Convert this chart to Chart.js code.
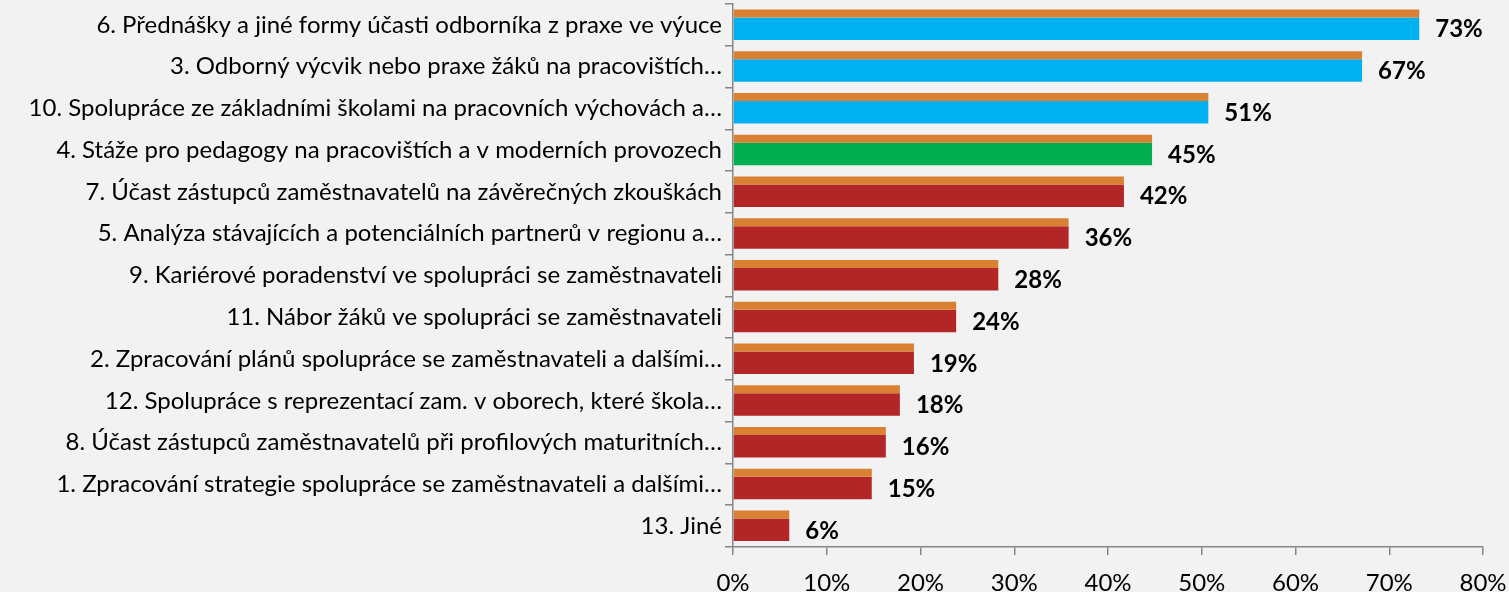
<!DOCTYPE html>
<html><head><meta charset="utf-8">
<script src="https://cdn.jsdelivr.net/npm/chart.js@4.4.0/dist/chart.umd.min.js"></script>
<style>html,body{margin:0;padding:0;background:#F2F2F2;overflow:hidden}#wrap{width:1509px;height:592px;position:relative}</style>
</head><body><div id="wrap"><canvas id="c"></canvas></div>
<script>
const categories = [
  '6. Přednášky a jiné formy účasti odborníka z praxe ve výuce',
  '3. Odborný výcvik nebo praxe žáků na pracovištích…',
  '10. Spolupráce ze základními školami na pracovních výchovách a…',
  '4. Stáže pro pedagogy na pracovištích a v moderních provozech',
  '7. Účast zástupců zaměstnavatelů na závěrečných zkouškách',
  '5. Analýza stávajících a potenciálních partnerů v regionu a…',
  '9. Kariérové poradenství ve spolupráci se zaměstnavateli',
  '11. Nábor žáků ve spolupráci se zaměstnavateli',
  '2. Zpracování plánů spolupráce se zaměstnavateli a dalšími…',
  '12. Spolupráce s reprezentací zam. v oborech, které škola…',
  '8. Účast zástupců zaměstnavatelů při profilových maturitních…',
  '1. Zpracování strategie spolupráce se zaměstnavateli a dalšími…',
  '13. Jiné'
];
const values = [73.2, 67.1, 50.7, 44.7, 41.7, 35.8, 28.3, 23.8, 19.3, 17.8, 16.3, 14.8, 6.0];
const valueLabels = ['73%','67%','51%','45%','42%','36%','28%','24%','19%','18%','16%','15%','6%'];
const colorGroups = ['blue','blue','blue','green','red','red','red','red','red','red','red','red','red'];
const xTicks = [0,10,20,30,40,50,60,70,80];

const palette = {blue:'#00B0F0', green:'#00B050', red:'#B22628', stripe:'#D98032'};
const FONT = 'Lato';

const labelPlugin = {
  id:'valueLabels',
  afterDatasetsDraw(chart){
    const ctx = chart.ctx;
    const meta = chart.getDatasetMeta(1);
    ctx.save();
    ctx.font = 'bold 24px ' + FONT;
    ctx.fillStyle = '#000';
    ctx.textAlign = 'left';
    ctx.textBaseline = 'middle';
    meta.data.forEach((bar,i)=>{
      ctx.fillText(valueLabels[i], bar.x + 16, bar.y + 1);
    });
    ctx.restore();
  }
};

new Chart(document.getElementById('c'), {
  type:'bar',
  data:{
    labels: categories,
    datasets:[
      {data: values, backgroundColor: palette.stripe, borderWidth:0,
       categoryPercentage: 1.1013, barPercentage: 0.3478},
      {data: values, backgroundColor: colorGroups.map(g=>palette[g]), borderWidth:0,
       categoryPercentage: 0.3591, barPercentage: 3.0}
    ]
  },
  options:{
    indexAxis:'y',
    responsive:true,
    maintainAspectRatio:false,
    animation:false,
    layout:{padding:{top:4,right:26,left:0,bottom:0}},
    plugins:{legend:{display:false}, tooltip:{enabled:false}},
    scales:{
      y:{
        type:'category',
        grid:{drawOnChartArea:false, tickLength:8, color:'#868686', offset:true, lineWidth:1.5},
        border:{color:'#868686', width:1.5},
        ticks:{color:'#000', font:{family:FONT, size:24}, padding:3, autoSkip:false},
        afterFit(s){ s.width = 733; s.paddingTop = 0; s.paddingBottom = 0; }
      },
      x:{
        type:'linear',
        min:0, max:80,
        afterBuildTicks(s){ s.ticks = xTicks.map(v=>({value:v})); },
        grid:{drawOnChartArea:false, tickLength:8, color:'#868686', lineWidth:1.5},
        border:{color:'#868686', width:1.5},
        ticks:{color:'#000', font:{family:FONT, size:24}, padding:14, callback:v=>v+'%'},
        afterFit(s){ s.height = 45; s.paddingLeft = 0; s.paddingRight = 0; }
      }
    }
  },
  plugins:[labelPlugin]
});
</script>
</body></html>
